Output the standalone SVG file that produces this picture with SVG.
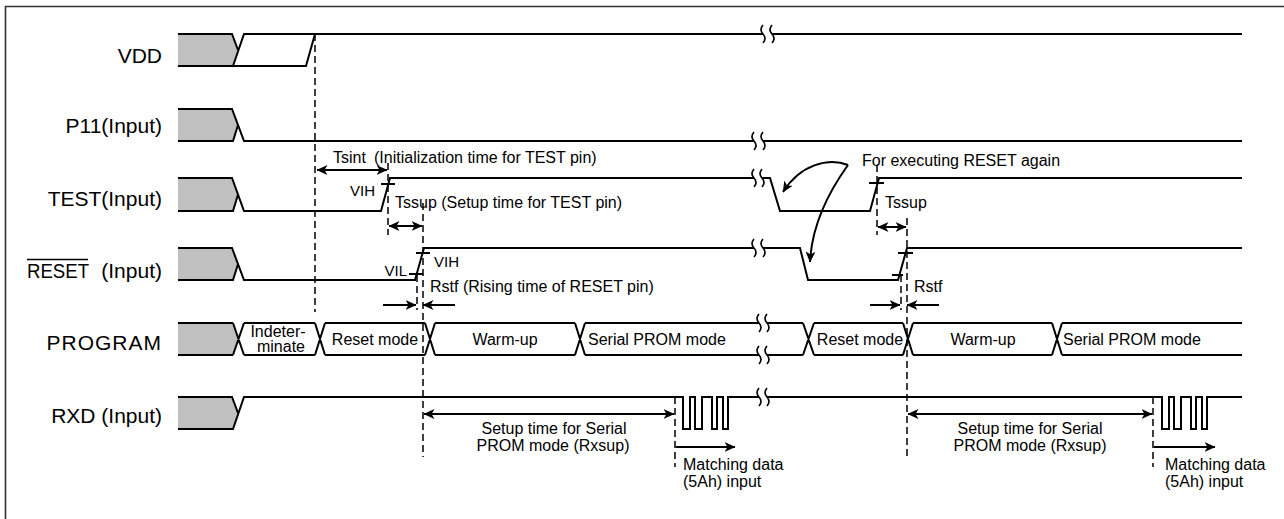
<svg xmlns="http://www.w3.org/2000/svg" width="1284" height="519" viewBox="0 0 1284 519">
<style>
.sig{fill:none;stroke:#000;stroke-width:2;stroke-linejoin:miter}
.tick{fill:none;stroke:#000;stroke-width:2}
.gray{fill:#c0c0c0;stroke:none}
.lbl{font-family:"Liberation Sans",Arial,sans-serif;font-size:21px;fill:#000;text-anchor:end}
.ann{font-family:"Liberation Sans",Arial,sans-serif;font-size:16px;fill:#000}
.vi{font-family:"Liberation Sans",Arial,sans-serif;font-size:15px;fill:#000}
.cell{font-family:"Liberation Sans",Arial,sans-serif;font-size:16px;fill:#000}
.mid{text-anchor:middle}
.dash{fill:none;stroke:#000;stroke-width:1.5;stroke-dasharray:7,4}
.arr{fill:none;stroke:#000;stroke-width:2}
.brk{fill:none;stroke:#000;stroke-width:1.6}
</style>
<defs>
<marker id="ah" viewBox="0 0 11 10" refX="10.5" refY="5" markerWidth="11" markerHeight="10" markerUnits="userSpaceOnUse" orient="auto-start-reverse">
<path d="M0,0 L11,5 L0,10 L3,5 z" fill="#000"/>
</marker>
<path id="bk" d="M0,-9 q-4,4.5 0,9 q4,4.5 0,9"/>
</defs>

<path d="M5.5,519 V6.5 H1284" fill="none" stroke="#333" stroke-width="1.6"/>

<g id="vdd">
<text class="lbl" x="162" y="63">VDD</text>
<polygon class="gray" points="178,34 232,34 238,50 233,66 178,66"/>
<path class="sig" d="M178,34 H232 L238,50 M233,66 L244,34 H763 M772,34 H1242 M178,66 H306 L315,34"/>
<use href="#bk" class="brk" x="763" y="34"/><use href="#bk" class="brk" x="772" y="34"/>
</g>

<g id="p11">
<text class="lbl" x="162" y="133">P11(Input)</text>
<polygon class="gray" points="178,109 232,109 238,125 233,141 178,141"/>
<path class="sig" d="M178,109 H232 L244,141 H754 M763,141 H1242 M178,141 H233 L238,125"/>
<use href="#bk" class="brk" x="754" y="141"/><use href="#bk" class="brk" x="763" y="141"/>
</g>

<g id="test">
<text class="lbl" x="162" y="206">TEST(Input)</text>
<polygon class="gray" points="178,178 232,178 238,194.5 233,211 178,211"/>
<path class="sig" d="M178,178 H232 L244,211 H381 L390,178 H754 M762,178 H770 L780,211 H870 L879,178 H1242 M178,211 H233 L238,194.5"/>
<path class="tick" d="M381,184 H395 M869,183 H884"/>
<use href="#bk" class="brk" x="754" y="178"/><use href="#bk" class="brk" x="762" y="178"/>
</g>

<g id="reset">
<text class="lbl" x="162" y="278">(Input)</text>
<text class="lbl" x="89" y="278" textLength="62" lengthAdjust="spacingAndGlyphs">RESET</text>
<path d="M27,259.5 H88" stroke="#000" stroke-width="1.5"/>
<polygon class="gray" points="178,248 232,248 238,264 233,280 178,280"/>
<path class="sig" d="M178,248 H232 L244,280 H415 L424,248 H754 M763,248 H800 L808,280 H898 L907,248 H1242 M178,280 H233 L238,264"/>
<path class="tick" d="M416,253 H430 M409,274 H423 M898,253 H913 M892,275 H903"/>
<use href="#bk" class="brk" x="754" y="248"/><use href="#bk" class="brk" x="763" y="248"/>
</g>

<g id="program">
<text class="lbl" x="162" y="350" letter-spacing="1">PROGRAM</text>
<polygon class="gray" points="178,323 233,323 238.5,339 233,355 178,355"/>
<path class="sig" d="M178,323 H233 M244,323 H315 M325,323 H425 M435,323 H575 M585,323 H759 M767,323 H803 M814,323 H903 M913,323 H1052 M1062,323 H1242
M178,355 H233 M244,355 H315 M325,355 H425 M435,355 H575 M585,355 H759 M767,355 H803 M814,355 H903 M913,355 H1052 M1062,355 H1242
M233,323 L244,355 M233,355 L244,323
M315,323 L325,355 M315,355 L325,323
M425,323 L435,355 M425,355 L435,323
M575,323 L585,355 M575,355 L585,323
M803,323 L814,355 M803,355 L814,323
M903,323 L913,355 M903,355 L913,323
M1052,323 L1062,355 M1052,355 L1062,323"/>
<use href="#bk" class="brk" x="759" y="323"/><use href="#bk" class="brk" x="767" y="323"/>
<use href="#bk" class="brk" x="759" y="355"/><use href="#bk" class="brk" x="767" y="355"/>
<text class="cell mid" x="278" y="337" font-size="14">Indeter-</text>
<text class="cell mid" x="281" y="352" font-size="14">minate</text>
<text class="cell mid" x="375" y="345">Reset mode</text>
<text class="cell mid" x="505" y="345">Warm-up</text>
<text class="cell" x="588" y="345">Serial PROM mode</text>
<text class="cell mid" x="860" y="345">Reset mode</text>
<text class="cell mid" x="983" y="345">Warm-up</text>
<text class="cell" x="1063" y="345">Serial PROM mode</text>
</g>

<g id="rxd">
<text class="lbl" x="162" y="423">RXD (Input)</text>
<polygon class="gray" points="178,397 232,397 238,413 233,429 178,429"/>
<path class="sig" d="M178,397 H232 L238,413 M178,429 H233 L244,397 H683 V429 H690 V397 H695 V429 H702 V397 H712 V429 H717 V397 H723 V429 H728 V397 H759 M767,397 H1162 V429 H1169 V397 H1174 V429 H1181 V397 H1191 V429 H1196 V397 H1202 V429 H1207 V397 H1242"/>
<use href="#bk" class="brk" x="759" y="397"/><use href="#bk" class="brk" x="767" y="397"/>
</g>

<g id="connectors">
<path class="dash" d="M315,34 V312 M388,163 V235 M423,203 V457 M417,275 V310 M877,165 V235 M907,218 V457 M901,275 V310 M675,397 V467 M1153,397 V467"/>
<path class="arr" d="M317,170 H387" marker-start="url(#ah)" marker-end="url(#ah)"/>
<path class="arr" d="M389,226 H422" marker-start="url(#ah)" marker-end="url(#ah)"/>
<path class="arr" d="M383,305 H416" marker-end="url(#ah)"/>
<path class="arr" d="M455,305 H423" marker-end="url(#ah)"/>
<path class="arr" d="M878,227 H906" marker-start="url(#ah)" marker-end="url(#ah)"/>
<path class="arr" d="M870,305 H900" marker-end="url(#ah)"/>
<path class="arr" d="M939,305 H907" marker-end="url(#ah)"/>
<path class="arr" d="M424,414 H674" marker-start="url(#ah)" marker-end="url(#ah)"/>
<path class="arr" d="M676,447 H735" marker-end="url(#ah)"/>
<path class="arr" d="M908,414 H1152" marker-start="url(#ah)" marker-end="url(#ah)"/>
<path class="arr" d="M1154,447 H1215" marker-end="url(#ah)"/>
<path class="arr" d="M848,165 C828,157 800,165 783,192" marker-end="url(#ah)"/>
<path class="arr" d="M848,165 C830,190 812,222 810,262" marker-end="url(#ah)"/>
</g>

<g id="annotations">
<text class="ann" x="333" y="163">Tsint</text>
<text class="ann" x="374" y="163">(Initialization time for TEST pin)</text>
<text class="vi" x="375" y="196" text-anchor="end">VIH</text>
<text class="ann" x="395" y="208">Tssup (Setup time for TEST pin)</text>
<text class="vi" x="407" y="276" text-anchor="end">VIL</text>
<text class="vi" x="434" y="267">VIH</text>
<text class="ann" x="430" y="292">Rstf (Rising time of RESET pin)</text>
<text class="ann" x="862" y="166">For executing RESET again</text>
<text class="ann" x="885" y="208">Tssup</text>
<text class="ann" x="914" y="292">Rstf</text>
<text class="ann mid" x="554" y="434">Setup time for Serial</text>
<text class="ann mid" x="553" y="451">PROM mode (Rxsup)</text>
<text class="ann" x="683" y="470">Matching data</text>
<text class="ann" x="683" y="487">(5Ah) input</text>
<text class="ann mid" x="1030" y="434">Setup time for Serial</text>
<text class="ann mid" x="1030" y="451">PROM mode (Rxsup)</text>
<text class="ann" x="1165" y="470">Matching data</text>
<text class="ann" x="1165" y="487">(5Ah) input</text>
</g>
</svg>
